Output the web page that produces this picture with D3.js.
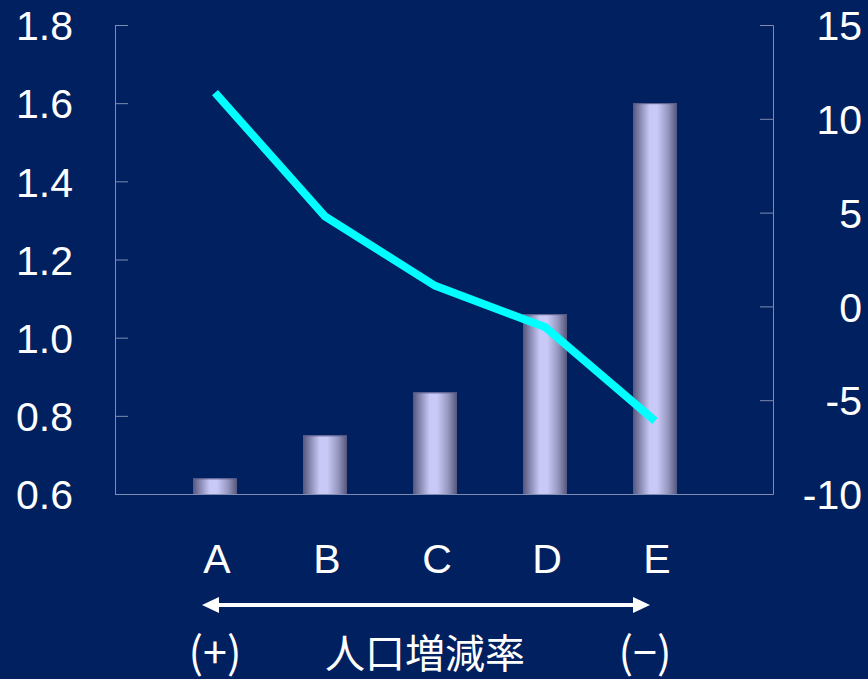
<!DOCTYPE html>
<html>
<head>
<meta charset="utf-8">
<script src="https://cdn.jsdelivr.net/npm/d3@7/dist/d3.min.js"></script>
<style>
  html, body { margin: 0; padding: 0; background: #002060; }
  svg { display: block; }
</style>
</head>
<body>
<script>
// Categories along the bottom, ordered from high to low population change
const categories = ["A", "B", "C", "D", "E"];
// Bar series (left axis)
const ratioValues = [0.64, 0.75, 0.86, 1.06, 1.60];
// Line series (right axis)
const rateValues = [11.4, 4.8, 1.1, -1.1, -6.1];
// Axis ticks
const leftTicks = [0.6, 0.8, 1.0, 1.2, 1.4, 1.6, 1.8];
const rightTicks = [-10, -5, 0, 5, 10, 15];

const W = 868, H = 679;
const plot = { left: 115, right: 773, top: 25, bottom: 494 };

const svg = d3.select("body").append("svg")
  .attr("width", W).attr("height", H);

svg.append("rect").attr("width", W).attr("height", H).attr("fill", "#002060");

const x = d3.scaleBand().domain(categories).range([160, 710]).paddingInner(0.6).paddingOuter(0.3);
const yL = d3.scaleLinear().domain([0.6, 1.8]).range([plot.bottom, plot.top]);
const yR = d3.scaleLinear().domain([-10, 15]).range([plot.bottom, plot.top]);

// Bar shading: dark edges, light centre
const defs = svg.append("defs");
const grad = defs.append("linearGradient").attr("id", "barGrad")
  .attr("x1", "0%").attr("x2", "100%").attr("y1", "0%").attr("y2", "0%");
[["0%", "#55567c"], ["18%", "#8d8db8"], ["38%", "#c9c9f7"], ["55%", "#c9c9f7"], ["80%", "#9596bf"], ["100%", "#55567c"]]
  .forEach(([o, c]) => grad.append("stop").attr("offset", o).attr("stop-color", c));

const axisColor = "#7d8cb0";
const labelFont = "'Liberation Sans', Arial, sans-serif";

// Bars
svg.append("g").selectAll("rect").data(categories).join("rect")
  .attr("x", d => x(d))
  .attr("width", x.bandwidth())
  .attr("y", (d, i) => yL(ratioValues[i]))
  .attr("height", (d, i) => yL(0.6) - yL(ratioValues[i]))
  .attr("fill", "url(#barGrad)");
svg.append("g").selectAll("line").data(categories).join("line")
  .attr("x1", d => x(d)).attr("x2", d => x(d) + x.bandwidth())
  .attr("y1", (d, i) => yL(ratioValues[i]) + 0.5)
  .attr("y2", (d, i) => yL(ratioValues[i]) + 0.5)
  .attr("stroke", "#5b5d8a").attr("stroke-width", 1);

// Left axis: ticks point into the plot, labels to the left
const gL = svg.append("g").attr("transform", `translate(${plot.left},0)`)
  .call(d3.axisRight(yL).tickValues(leftTicks).tickSize(13).tickFormat(d3.format(".1f")));
gL.select(".domain").attr("stroke", axisColor);
gL.selectAll(".tick line").attr("stroke", axisColor);
gL.selectAll(".tick").filter(d => d === 0.6).select("line").remove();
gL.selectAll(".tick text")
  .attr("x", -42).attr("dy", "0.36em").attr("text-anchor", "end")
  .attr("fill", "#ffffff").style("font-family", labelFont).style("font-size", "41px");

// Right axis
const gR = svg.append("g").attr("transform", `translate(${plot.right},0)`)
  .call(d3.axisLeft(yR).tickValues(rightTicks).tickSize(13).tickFormat(d => String(d)));
gR.select(".domain").attr("stroke", axisColor);
gR.selectAll(".tick line").attr("stroke", axisColor);
gR.selectAll(".tick").filter(d => d === -10).select("line").remove();
gR.selectAll(".tick text")
  .attr("x", 89).attr("dy", "0.36em").attr("text-anchor", "end")
  .attr("fill", "#ffffff").style("font-family", labelFont).style("font-size", "41px");

// Baseline
svg.append("line")
  .attr("x1", plot.left).attr("x2", plot.right)
  .attr("y1", plot.bottom + 0.5).attr("y2", plot.bottom + 0.5)
  .attr("stroke", axisColor).attr("stroke-width", 1);

// Line series
const line = d3.line()
  .x((d, i) => x(categories[i]) + x.bandwidth() / 2)
  .y(d => yR(d));
svg.append("path").datum(rateValues)
  .attr("d", line)
  .attr("fill", "none")
  .attr("stroke", "#00ffff")
  .attr("stroke-width", 8)
  .attr("stroke-linejoin", "miter")
  .attr("stroke-linecap", "butt");

// Category labels
svg.append("g").selectAll("text").data(categories).join("text")
  .attr("x", d => x(d) + x.bandwidth() / 2 + 2)
  .attr("y", 573)
  .attr("text-anchor", "middle")
  .attr("fill", "#ffffff")
  .style("font-family", labelFont).style("font-size", "41px")
  .text(d => d);

// Double-headed arrow under the categories
const ax0 = x(categories[0]) + x.bandwidth() / 2 - 13;
const ax1 = x(categories[categories.length - 1]) + x.bandwidth() / 2 - 5;
const ay = 605;
svg.append("line")
  .attr("x1", ax0 + 10).attr("x2", ax1 - 10)
  .attr("y1", ay).attr("y2", ay)
  .attr("stroke", "#ffffff").attr("stroke-width", 4);
svg.append("path")
  .attr("d", `M${ax0},${ay} L${ax0 + 17},${ay - 8} L${ax0 + 17},${ay + 8} Z`)
  .attr("fill", "#ffffff");
svg.append("path")
  .attr("d", `M${ax1},${ay} L${ax1 - 17},${ay - 8} L${ax1 - 17},${ay + 8} Z`)
  .attr("fill", "#ffffff");

// Axis caption
const cjkFont = "'Noto Sans CJK JP', 'Noto Sans', sans-serif";
const captionY = 668;
const caption = svg.append("g").attr("fill", "#ffffff")
  .style("font-family", cjkFont).style("font-size", "40px");
caption.append("text").attr("x", x("A") + x.bandwidth() / 2).attr("y", captionY)
  .attr("text-anchor", "middle").style("font-size", "43px").text("(+)");
caption.append("text").attr("x", 425).attr("y", captionY)
  .attr("text-anchor", "middle").text("人口増減率");
caption.append("text").attr("x", x("E") + x.bandwidth() / 2 - 10).attr("y", captionY)
  .attr("text-anchor", "middle").style("font-size", "43px").text("(−)");
</script>
</body>
</html>
